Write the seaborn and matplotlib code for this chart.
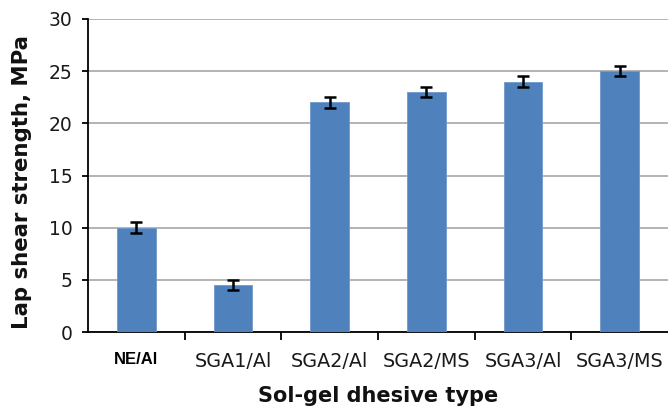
# bar chart: lap shear strength per sol-gel adhesive type
import numpy as np
import pandas as pd
import seaborn as sns
import matplotlib.pyplot as plt
from matplotlib.ticker import FixedLocator

categories = ['NE/Al', 'SGA1/Al', 'SGA2/Al', 'SGA2/MS', 'SGA3/Al', 'SGA3/MS']
strength = [10.0, 4.5, 22.0, 23.0, 24.0, 25.0]
error = [0.5, 0.5, 0.5, 0.5, 0.5, 0.5]

df = pd.DataFrame({'type': categories, 'strength': strength})

sns.set_style('white')
plt.rcParams['font.family'] = ['DejaVu Sans']

fig = plt.figure(figsize=(6.68, 4.12), dpi=100)
ax = fig.add_axes([0.1317, 0.194, 0.8683, 0.760])

sns.barplot(data=df, x='type', y='strength', color='#4f81bd', saturation=1,
            width=0.4, errorbar=None, ax=ax, zorder=3)
for p in ax.patches:
    p.set_edgecolor('#6f98cc')
    p.set_linewidth(0.6)

ax.errorbar(np.arange(len(categories)), strength, yerr=error, fmt='none',
            ecolor='black', elinewidth=1.8, capsize=4.3, capthick=1.8, zorder=4)

ax.set_ylim(0, 30)
ax.set_xlim(-0.5, len(categories) - 0.5)
ax.set_yticks(range(0, 31, 5))
ax.yaxis.grid(True, color='#b3b3b3', linewidth=1.4, zorder=0)
ax.set_axisbelow(True)

for side in ['top', 'right']:
    ax.spines[side].set_visible(False)
for side in ['left', 'bottom']:
    ax.spines[side].set_color('black')
    ax.spines[side].set_linewidth(1.3)

ax.tick_params(axis='y', labelsize=13.5, length=4.5, width=1.3, color='black',
               left=True, direction='out', pad=6.5, labelcolor='#1a1a1a')
ax.tick_params(axis='x', which='major', length=0, labelsize=13.8, pad=14,
               labelcolor='#1a1a1a')
ax.xaxis.set_minor_locator(FixedLocator(np.arange(0.5, len(categories) - 0.5, 1)))
ax.tick_params(axis='x', which='minor', length=6, width=1.3, color='black',
               bottom=True, direction='out')

labels = ax.get_xticklabels()
labels[0].set_family(['Liberation Sans', 'DejaVu Sans'])
labels[0].set_fontweight('bold')
labels[0].set_fontsize(12)
labels[0].set_color('black')

ax.set_xlabel('Sol-gel dhesive type', fontsize=15, fontweight='bold', labelpad=11,
              color='#111111')
ax.set_ylabel('Lap shear strength, MPa', fontsize=15.3, fontweight='bold', labelpad=12,
              color='#111111', y=0.48)

fig.savefig('out.png', dpi=100)
